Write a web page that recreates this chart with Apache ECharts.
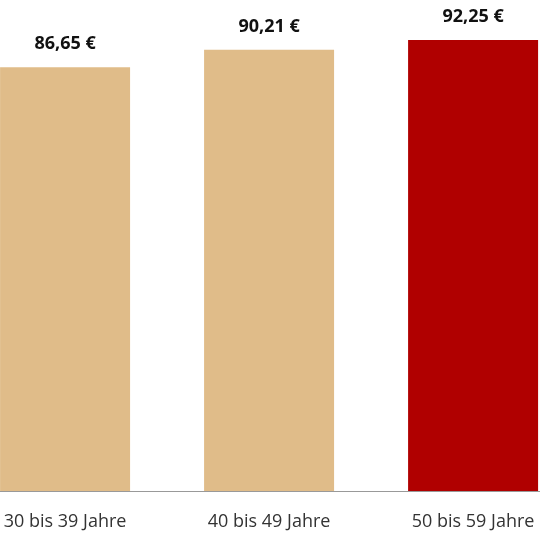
<!DOCTYPE html>
<html>
<head>
<meta charset="UTF-8">
<script src="https://cdn.jsdelivr.net/npm/echarts@6/dist/echarts.min.js"></script>
<style>html,body{margin:0;background:#fff}#main{width:540px;height:540px}</style>
</head>
<body>
<div id="main"></div>
<script>
var categories = ['30 bis 39 Jahre', '40 bis 49 Jahre', '50 bis 59 Jahre'];
var values = [86.65, 90.21, 92.25];
var colors = ['#e0bc89', '#e0bc89', '#b00000'];

var chart = echarts.init(document.getElementById('main'));
chart.setOption({
	animation: false,
	grid: { left: 0, right: 0, top: 2, bottom: 49 },
	xAxis: {
		type: 'value',
		min: -0.319,
		max: 2.328,
		splitLine: { show: false },
		axisTick: { show: false },
		axisLine: { show: true, onZero: false, lineStyle: { color: '#999', width: 1 } },
		axisLabel: {
			customValues: [0, 1, 2],
			color: '#333', fontSize: 18, fontFamily: 'Open Sans', margin: 22,
			formatter: function (v) { return categories[Math.round(v)]; }
		}
	},
	yAxis: { type: 'value', min: 0, max: 100, show: false, splitLine: { show: false } },
	series: [{
		type: 'bar',
		barWidth: 130,
		data: values.map(function (v, i) { return { value: [i, v], itemStyle: { color: colors[i] } }; }),
		label: {
			show: true,
			position: 'top',
			distance: 14,
			color: '#111',
			fontSize: 18,
			fontWeight: 'bold',
			fontFamily: 'Open Sans',
			formatter: function (p) { return p.value[1].toFixed(2).replace('.', ',') + ' €'; }
		}
	}]
});
</script>
</body>
</html>
